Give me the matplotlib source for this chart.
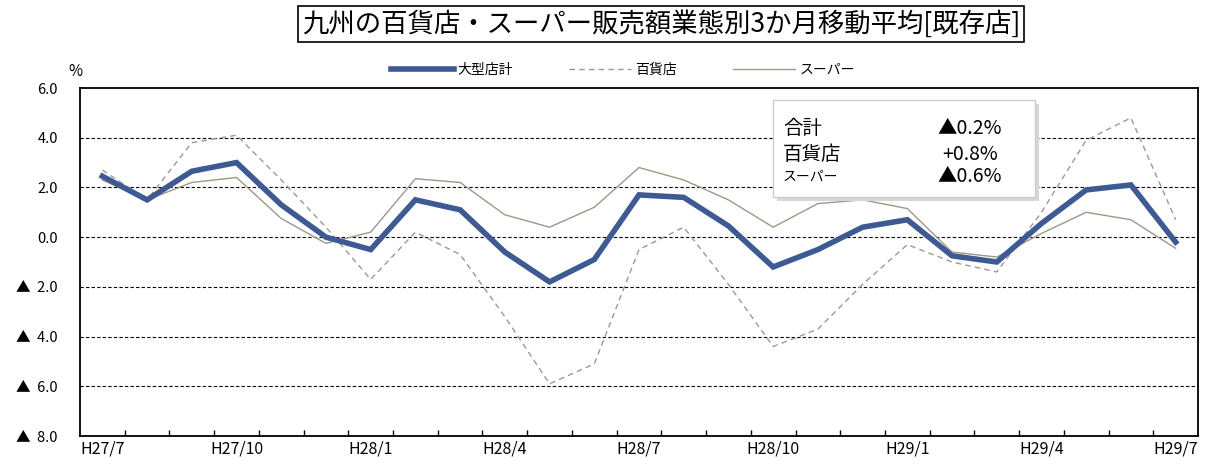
import matplotlib
matplotlib.use("Agg")
import matplotlib.pyplot as plt
from matplotlib.patches import Rectangle
import numpy as np

plt.rcParams['font.family'] = ['Noto Sans CJK JP', 'DejaVu Sans']

# data
months = ['H27/7', 'H27/8', 'H27/9', 'H27/10', 'H27/11', 'H27/12',
          'H28/1', 'H28/2', 'H28/3', 'H28/4', 'H28/5', 'H28/6',
          'H28/7', 'H28/8', 'H28/9', 'H28/10', 'H28/11', 'H28/12',
          'H29/1', 'H29/2', 'H29/3', 'H29/4', 'H29/5', 'H29/6', 'H29/7']
total = [2.45, 1.5, 2.65, 3.0, 1.3, 0.0, -0.5, 1.5, 1.1, -0.6, -1.8, -0.9,
         1.7, 1.6, 0.45, -1.2, -0.5, 0.4, 0.7, -0.75, -1.0, 0.55, 1.9, 2.1, -0.2]
dept = [2.7, 1.5, 3.8, 4.1, 2.3, 0.4, -1.7, 0.2, -0.7, -3.2, -5.9, -5.1,
        -0.5, 0.4, -1.9, -4.4, -3.7, -1.9, -0.3, -1.0, -1.4, 1.0, 3.9, 4.8, 0.7]
super_ = [2.3, 1.5, 2.2, 2.4, 0.75, -0.25, 0.2, 2.35, 2.2, 0.9, 0.4, 1.2,
          2.8, 2.3, 1.5, 0.4, 1.35, 1.5, 1.15, -0.6, -0.8, 0.15, 1.0, 0.7, -0.45]
yticks = [6, 4, 2, 0, -2, -4, -6, -8]
ylabels = ['6.0', '4.0', '2.0', '0.0', '▲  2.0', '▲  4.0', '▲  6.0', '▲  8.0']
notes = [('合計', '▲0.2%', 14), ('百貨店', '+0.8%', 14), ('スーパー', '▲0.6%', 10)]

W, H = 1212, 465
fig = plt.figure(figsize=(W / 100, H / 100), dpi=100)
ax = fig.add_axes([80 / W, 1 - 436 / H, 1118 / W, 348 / H])

def px(x, y):
    return x / W, 1 - y / H

x = np.arange(len(months))
ax.plot(x, dept, color='#a09890', lw=1.0, ls=(0, (4, 3)), label='百貨店', zorder=3)
ax.plot(x, super_, color='#999988', lw=1.0, label='スーパー', zorder=3)
ax.plot(x, total, color='#3d5a93', lw=4.0, label='大型店計', zorder=4,
        solid_joinstyle='miter')

for v in [4, 2, 0, -2, -4, -6]:
    ax.axhline(v, color='black', lw=0.8, ls=(0, (3, 2)), zorder=2)

ax.set_xlim(-0.5, len(months) - 0.5)
ax.set_ylim(-8, 6)
ax.set_yticks(yticks)
ax.set_yticklabels(ylabels, fontsize=10.5)
ax.tick_params(axis='y', length=0, pad=16)
ax.set_xticks(x[::3])
ax.set_xticklabels(months[::3], fontsize=11.5)
ax.set_xticks(x[:-1] + 0.5, minor=True)
ax.tick_params(axis='x', which='major', length=0, pad=3)
ax.tick_params(axis='x', which='minor', direction='in', length=4, width=1)
for s in ax.spines.values():
    s.set_linewidth(1.3)
    s.set_color('black')

# legend
handles, labels = ax.get_legend_handles_labels()
order = [2, 0, 1]
fig.legend([handles[i] for i in order], [labels[i] for i in order],
           loc='center', bbox_to_anchor=px(623, 70), ncol=3, frameon=False,
           fontsize=10, handlelength=4.5, columnspacing=4, handletextpad=0.3)

# title
fig.text(*px(661, 24), '九州の百貨店・スーパー販売額業態別3か月移動平均[既存店]',
         ha='center', va='center', fontsize=19,
         bbox=dict(boxstyle='square,pad=0.15', fc='white', ec='black', lw=1.2))
fig.text(*px(75, 72), '%', ha='center', va='center', fontsize=11)

# note box
fig.patches.append(Rectangle(px(777, 201), 262 / W, 97 / H, transform=fig.transFigure,
                             fc='#d8d8d8', ec='none', zorder=5))
fig.patches.append(Rectangle(px(773, 197), 262 / W, 97 / H, transform=fig.transFigure,
                             fc='white', ec='#cccccc', lw=1, zorder=6))
for (name, val, fs), y in zip(notes, [128, 154, 177]):
    fig.text(*px(783, y), name, ha='left', va='center', fontsize=fs, zorder=7)
    fig.text(*px(970, y), val, ha='center', va='center', fontsize=14, zorder=7)

fig.savefig('out.png', dpi=100)
